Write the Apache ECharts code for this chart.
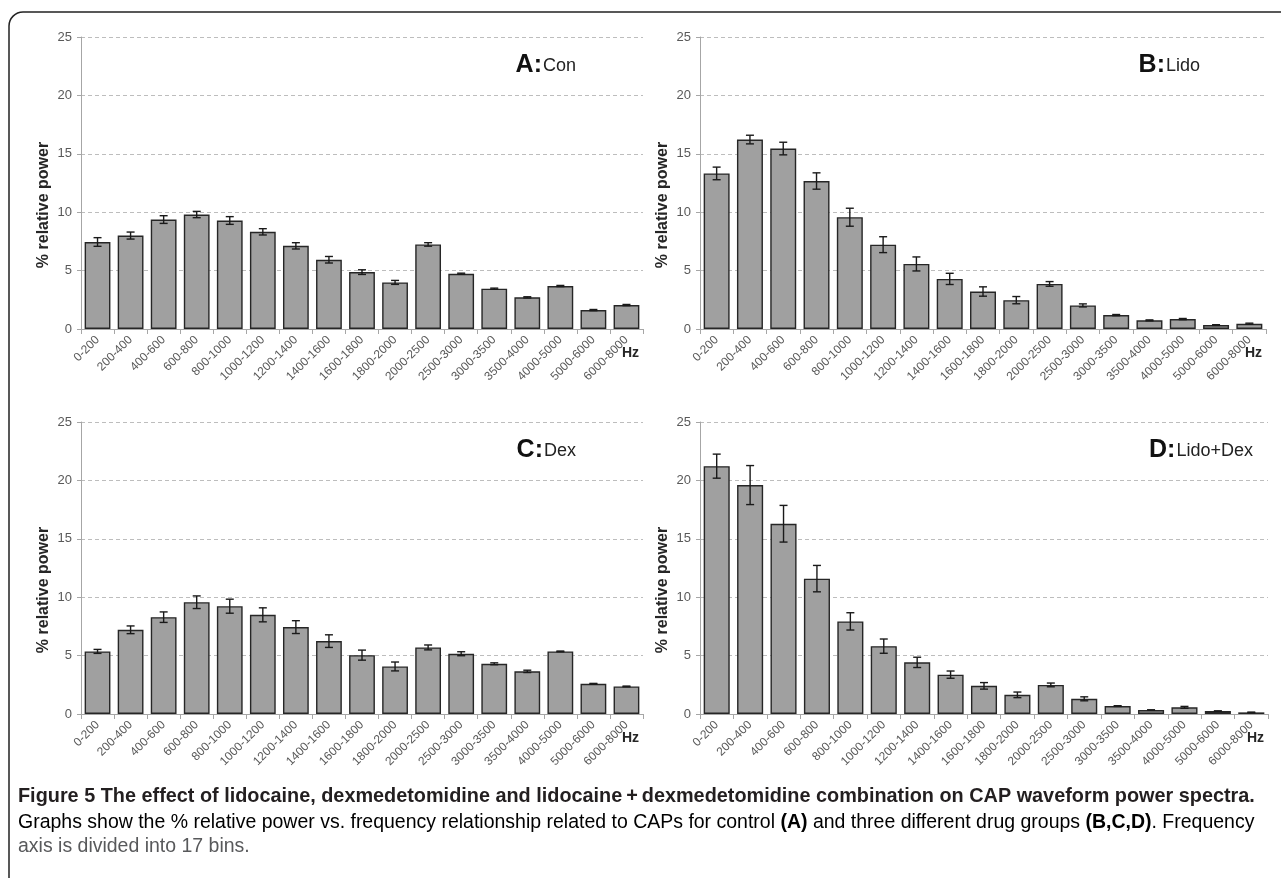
<!DOCTYPE html>
<html>
<head>
<meta charset="utf-8">
<script src="https://cdn.jsdelivr.net/npm/echarts@6/dist/echarts.min.js"></script>
<style>
html,body{margin:0;padding:0;background:#fff;}
#chart{width:1281px;height:878px;}
</style>
</head>
<body>
<div id="chart"></div>
<script>
const categories = ['0-200','200-400','400-600','600-800','800-1000','1000-1200','1200-1400','1400-1600','1600-1800','1800-2000','2000-2500','2500-3000','3000-3500','3500-4000','4000-5000','5000-6000','6000-8000'];

const conMean = [7.45, 8.0, 9.37, 9.8, 9.29, 8.32, 7.12, 5.93, 4.87, 3.99, 7.24, 4.73, 3.45, 2.71, 3.68, 1.62, 2.05];
const conErr  = [0.37, 0.3, 0.33, 0.27, 0.33, 0.27, 0.27, 0.28, 0.2, 0.17, 0.15, 0.05, 0.05, 0.05, 0.05, 0.05, 0.05];

const lidoMean = [13.32, 16.22, 15.45, 12.67, 9.57, 7.22, 5.57, 4.29, 3.21, 2.47, 3.86, 2.02, 1.19, 0.74, 0.85, 0.34, 0.45];
const lidoErr  = [0.54, 0.37, 0.54, 0.7, 0.77, 0.68, 0.6, 0.48, 0.4, 0.31, 0.2, 0.13, 0.05, 0.04, 0.05, 0.03, 0.05];

const dexMean = [5.36, 7.21, 8.29, 9.57, 9.23, 8.49, 7.44, 6.24, 5.04, 4.07, 5.7, 5.16, 4.3, 3.65, 5.36, 2.59, 2.36];
const dexErr  = [0.17, 0.33, 0.45, 0.54, 0.6, 0.6, 0.55, 0.54, 0.43, 0.38, 0.21, 0.17, 0.08, 0.1, 0.03, 0.03, 0.03];

const comboMean = [21.22, 19.6, 16.29, 11.59, 7.93, 5.81, 4.42, 3.37, 2.41, 1.64, 2.49, 1.3, 0.68, 0.34, 0.57, 0.25, 0.14];
const comboErr  = [1.03, 1.67, 1.57, 1.13, 0.74, 0.61, 0.44, 0.31, 0.28, 0.24, 0.16, 0.17, 0.03, 0.02, 0.08, 0.02, 0.02];

const panelLetters = ['A:', 'B:', 'C:', 'D:'];
const panelNames = ['Con', 'Lido', 'Dex', 'Lido+Dex'];
const yAxisTitle = '% relative power';
const xUnit = 'Hz';
const captionTitle = 'Figure 5 The effect of lidocaine, dexmedetomidine and lidocaine\u2009+\u2009dexmedetomidine combination on CAP waveform power spectra.';
const captionLine2 = [
  ['n', 'Graphs show the % relative power vs. frequency relationship related to CAPs for control '],
  ['b', '(A)'],
  ['n', ' and three different drug groups '],
  ['b', '(B,C,D)'],
  ['n', '. Frequency']
];
const captionLine3 = 'axis is divided into 17 bins.';

const panels = [
  {mean: conMean, err: conErr},
  {mean: lidoMean, err: lidoErr},
  {mean: dexMean, err: dexErr},
  {mean: comboMean, err: comboErr}
];

// layout
const grids = [
  {left: 81, top: 37, width: 562, height: 292},
  {left: 700, top: 37, width: 566, height: 292},
  {left: 81, top: 422, width: 562, height: 292},
  {left: 700, top: 422, width: 568, height: 292}
];

const tickFont = '"Liberation Sans Narrow", "Liberation Sans", sans-serif';
const capFont = '"Liberation Sans Narrow", "Liberation Sans", sans-serif';

const measureCanvas = document.createElement('canvas').getContext('2d');
function measure(text, weight, size, family) {
  measureCanvas.font = weight + ' ' + size + 'px ' + family;
  return measureCanvas.measureText(text).width;
}
function fitSize(segments, family, target) {
  let w = 0;
  segments.forEach(s => { w += measure(s[1], s[0] === 'b' ? 'bold' : 'normal', 100, family); });
  return 100 * target / w;
}

const chart = echarts.init(document.getElementById('chart'), null, {renderer: 'canvas'});

const xAxes = [], yAxes = [], series = [], graphics = [];
grids.forEach((g, i) => {
  xAxes.push({
    type: 'category', gridIndex: i, data: categories,
    axisLine: {lineStyle: {color: '#a6a6a6', width: 1}},
    axisTick: {show: true, length: 5, lineStyle: {color: '#a6a6a6'}},
    axisLabel: {rotate: 45, interval: 0, fontSize: 12, color: '#595959', margin: 9, fontFamily: tickFont}
  });
  yAxes.push({
    type: 'value', gridIndex: i, min: 0, max: 25, interval: 5,
    axisLine: {show: true, lineStyle: {color: '#a6a6a6', width: 1}},
    axisTick: {show: true, length: 4, lineStyle: {color: '#a6a6a6'}},
    axisLabel: {fontSize: 13, color: '#595959', margin: 9, fontFamily: tickFont},
    splitLine: {show: true, lineStyle: {color: '#bdbdbd', type: [4, 3], width: 1}}
  });
  const p = panels[i];
  series.push({
    type: 'bar', xAxisIndex: i, yAxisIndex: i, data: p.mean,
    barCategoryGap: '22%',
    itemStyle: {color: '#a0a0a0', borderColor: '#262626', borderWidth: 1.4},
    silent: true
  });
  series.push({
    type: 'custom', xAxisIndex: i, yAxisIndex: i,
    data: p.mean.map((m, k) => [k, m - p.err[k], m + p.err[k]]),
    encode: {x: 0, y: [1, 2]},
    z: 5,
    renderItem: function (params, api) {
      const lo = api.coord([api.value(0), api.value(1)]);
      const hi = api.coord([api.value(0), api.value(2)]);
      const cw = 4;
      const st = {stroke: '#1a1a1a', lineWidth: 1.4};
      return {
        type: 'group',
        children: [
          {type: 'line', shape: {x1: lo[0], y1: lo[1], x2: hi[0], y2: hi[1]}, style: st},
          {type: 'line', shape: {x1: lo[0] - cw, y1: lo[1], x2: lo[0] + cw, y2: lo[1]}, style: st},
          {type: 'line', shape: {x1: hi[0] - cw, y1: hi[1], x2: hi[0] + cw, y2: hi[1]}, style: st}
        ]
      };
    }
  });
  // y axis title
  graphics.push({
    type: 'text', x: g.left - 37, y: g.top + g.height / 2 + 22, rotation: Math.PI / 2,
    style: {text: yAxisTitle, font: 'bold 16px "Liberation Sans", sans-serif', fill: '#262626',
      textAlign: 'center', textVerticalAlign: 'middle'}
  });
  // Hz
  graphics.push({
    type: 'text', x: g.left + g.width - 4, y: g.top + g.height + 24,
    style: {text: xUnit, font: 'bold 14px ' + tickFont, fill: '#262626', textAlign: 'right', textVerticalAlign: 'middle'}
  });
  // panel title
  const titleRight = [576, 1200, 576, 1253][i];
  graphics.push({
    type: 'text', x: titleRight, y: g.top + 28,
    style: {
      text: '{a|' + panelLetters[i] + '}{b|' + panelNames[i] + '}',
      textAlign: 'right', textVerticalAlign: 'middle',
      rich: {
        a: {fontSize: 25, fontWeight: 'bold', fontFamily: capFont, fill: '#111', color: '#111'},
        b: {fontSize: 18, fontFamily: capFont, fill: '#222', color: '#222', padding: [3, 0, 0, 1]}
      }
    }
  });
});

// border
graphics.push({
  type: 'rect', shape: {x: 9, y: 12, width: 1320, height: 920, r: [14, 0, 0, 0]},
  style: {fill: 'none', stroke: '#222', lineWidth: 1.5}, z: 10
});

// caption
const capLeft = 18, capRight = 1255;
const s1 = fitSize([['b', captionTitle]], capFont, capRight - capLeft);
graphics.push({
  type: 'text', x: capLeft, y: 797,
  style: {text: captionTitle, font: 'bold ' + s1.toFixed(2) + 'px ' + capFont, fill: '#231f20', textVerticalAlign: 'middle'}
});
const s2 = fitSize(captionLine2, capFont, capRight - capLeft);
const rich2 = {
  n: {fontSize: s2, fontFamily: capFont, color: '#58595b'},
  b: {fontSize: s2, fontFamily: capFont, fontWeight: 'bold', color: '#231f20'}
};
graphics.push({
  type: 'text', x: capLeft, y: 823,
  style: {text: captionLine2.map(s => '{' + s[0] + '|' + s[1] + '}').join(''), rich: rich2, textVerticalAlign: 'middle'}
});
graphics.push({
  type: 'text', x: capLeft, y: 847,
  style: {text: captionLine3, font: s2.toFixed(2) + 'px ' + capFont, fill: '#58595b', textVerticalAlign: 'middle'}
});

chart.setOption({
  backgroundColor: '#ffffff',
  animation: false,
  grid: grids.map(g => Object.assign({containLabel: false}, g)),
  xAxis: xAxes,
  yAxis: yAxes,
  series: series,
  graphic: graphics
});
</script>
</body>
</html>
